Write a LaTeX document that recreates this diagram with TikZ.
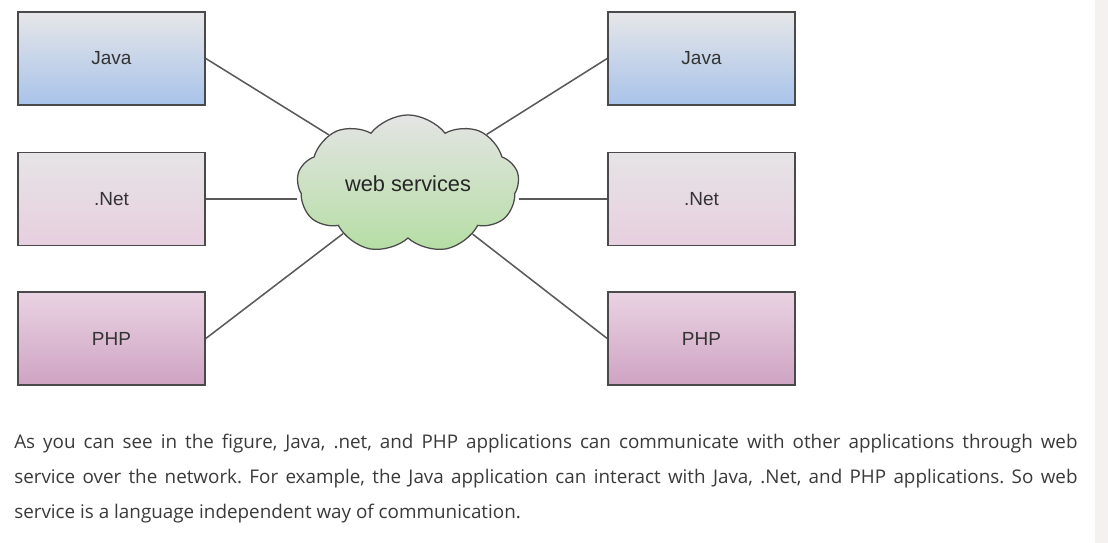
\documentclass[tikz,border=0pt]{standalone}
\usepackage{fontspec}
\setmainfont{Liberation Sans}
\newfontfamily\bodyfont{Open Sans}
\usetikzlibrary{shapes.symbols,positioning}
\definecolor{edgegray}{HTML}{4A4A4A}
\definecolor{linegray}{HTML}{5A5A5A}
\definecolor{labelgray}{HTML}{333333}
\definecolor{javatop}{HTML}{E6E6E8}
\definecolor{javabot}{HTML}{A8C3EA}
\definecolor{nettop}{HTML}{E6E4E6}
\definecolor{netbot}{HTML}{E7CFDF}
\definecolor{phptop}{HTML}{E9D3E2}
\definecolor{phpbot}{HTML}{CFA3C3}
\definecolor{cloudtop}{HTML}{E4E4E4}
\definecolor{cloudbot}{HTML}{B5DEA4}
\definecolor{stripgray}{HTML}{F5F1F1}
\definecolor{bodygray}{HTML}{3A3A3A}

\begin{document}
\begin{tikzpicture}[x=0.025cm,y=-0.025cm]
		\tikzset{lang box/.style 2 args={draw=edgegray,line width=1.1pt,top color=#1,bottom color=#2,
				minimum width=4.675cm,minimum height=2.325cm,text=labelgray,font=\fontsize{13.5}{16}\selectfont},
			link/.style={draw=linegray,line width=1.1pt}}

		\useasboundingbox (0,0) rectangle (1108,543);
		\fill[stripgray] (1095,0) rectangle (1108,543);

		% left column
		\node [lang box={javatop}{javabot}] (javaL) at (111.5,58.5) {Java};
		\node [lang box={nettop}{netbot}] (netL) at (111.5,199) {.Net};
		\node [lang box={phptop}{phpbot}] (phpL) at (111.5,338.5) {PHP};
		% right column
		\node [lang box={javatop}{javabot}] (javaR) at (701.5,58.5) {Java};
		\node [lang box={nettop}{netbot}] (netR) at (701.5,199) {.Net};
		\node [lang box={phptop}{phpbot}] (phpR) at (701.5,338.5) {PHP};

		\node [cloud,cloud puffs=9,cloud puff arc=105,aspect=1.7,draw=edgegray,line width=0.9pt,
			top color=cloudtop,bottom color=cloudbot,minimum width=5.55cm,minimum height=3.425cm,
			text=black!85,font=\fontsize{15.5}{18}\selectfont] (ws) at (408,184) {web services};

		\draw[link] (javaL.east) -- (ws);
		\draw[link] (netL.east) -- (netL.east -| ws.west);
		\draw[link] (phpL.east) -- (ws);
		\draw[link] (javaR.west) -- (ws);
		\draw[link] (netR.west) -- (netR.west -| ws.east);
		\draw[link] (phpR.west) -- (ws);

		\node [anchor=north west,inner sep=0pt,text width=26.575cm,align=justify,text=bodygray,
			font=\bodyfont\frenchspacing\fontsize{13.4}{24.8}\selectfont] (para) at (14,434)
			{As you can see in the figure, Java, .net, and PHP applications can communicate with other applications through web\linebreak
			service over the network. For example, the Java application can interact with Java, .Net, and PHP applications. So web\linebreak
			service is a language independent way of communication.};
	\end{tikzpicture}
\end{document}
